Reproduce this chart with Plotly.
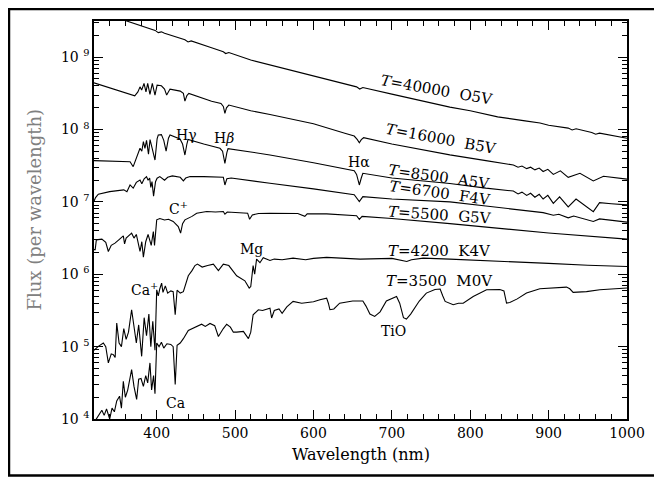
import numpy as np
import plotly.graph_objects as go

# wavelength (nm) and log10 flux (per wavelength)
o5v_lam = [320, 340, 364, 380, 398, 402, 406, 410, 425, 436, 440, 444, 470, 485, 488, 492,
           520, 545, 600, 640, 655, 659, 663, 700, 740, 774, 800, 828, 835, 870, 889, 900,
           925, 930, 935, 955, 960, 965, 1000]
o5v_logf = [9.65, 9.58, 9.497, 9.44, 9.37, 9.34, 9.35, 9.33, 9.28, 9.24, 9.21, 9.225, 9.13, 9.075, 9.05, 9.065,
            8.96, 8.89, 8.74, 8.63, 8.59, 8.56, 8.58, 8.49, 8.39, 8.31, 8.26, 8.20, 8.175, 8.12, 8.09, 8.06,
            8.02, 7.995, 8.01, 7.96, 7.935, 7.95, 7.88]

b5v_lam = [320, 345, 372, 376, 378.7, 380.8, 383.8, 386.3, 388.5, 391.4, 394.4, 397.8, 400.5, 406, 410,
           412.7, 417, 430, 434, 436, 438.5, 441, 470, 482, 485, 487, 489, 492, 520, 544.5, 600, 640,
           652, 656, 658.5, 661, 664, 700, 740, 774, 820, 855, 861, 866, 872, 877, 882.5, 888, 893,
           899, 906, 915, 925, 940, 957, 970, 1000]
b5v_logf = [8.646, 8.56, 8.467, 8.52, 8.59, 8.545, 8.637, 8.52, 8.637, 8.485, 8.637, 8.476, 8.614, 8.605, 8.56,
            8.476, 8.559, 8.531, 8.50, 8.393, 8.47, 8.50, 8.39, 8.361, 8.32, 8.223, 8.30, 8.338, 8.26, 8.209, 8.08, 7.95,
            7.91, 7.86, 7.818, 7.86, 7.887, 7.80, 7.72, 7.65, 7.57, 7.51, 7.48, 7.495, 7.46, 7.48, 7.443, 7.468, 7.42,
            7.45, 7.38, 7.43, 7.34, 7.395, 7.29, 7.355, 7.315]

a5v_lam = [320, 345, 366, 370, 374, 378.7, 381, 383, 385, 387, 389.5, 391.5, 394, 397.8, 400.5, 402, 406,
           409, 412, 415, 417, 429.7, 433, 436, 438.5, 440, 460, 480.7, 484, 487, 489.5, 491, 520, 544.5,
           600, 640, 652, 655, 658.5, 661, 663, 700, 774, 820, 855, 861, 866, 872, 877, 882.5, 888, 893,
           899, 906, 914, 925, 935, 957, 965, 980, 1000]
a5v_logf = [7.570, 7.565, 7.556, 7.487, 7.60, 7.741, 7.70, 7.833, 7.74, 7.85, 7.66, 7.86, 7.75, 7.579, 7.87, 7.924, 7.93,
            7.85, 7.703, 7.88, 7.924, 7.869, 7.80, 7.648, 7.80, 7.864, 7.80, 7.741, 7.70, 7.533, 7.68, 7.736, 7.69, 7.648,
            7.54, 7.46, 7.43, 7.38, 7.234, 7.33, 7.396, 7.33, 7.255, 7.19, 7.15, 7.11, 7.135, 7.09, 7.12, 7.065, 7.105, 7.04,
            7.09, 6.98, 7.07, 6.93, 7.04, 6.866, 6.99, 6.975, 6.959]

f4v_lam = [320, 322, 325.5, 340, 358, 362, 366, 370, 374, 378.7, 381, 384, 387, 389, 391, 392.5, 394, 396,
           398.5, 400.5, 404, 410, 414, 420, 430, 434, 437, 442.5, 460, 485, 487, 489.5, 495, 520, 544.5,
           600, 640, 652, 658.5, 663, 700, 774, 820, 855, 893, 906, 913, 925, 932, 957, 965, 1000]
f4v_logf = [7.01, 7.06, 7.106, 7.142, 7.166, 7.14, 7.234, 7.19, 7.27, 7.303, 7.25, 7.32, 7.349, 7.30, 7.33, 7.20, 7.28, 7.08,
            7.28, 7.327, 7.35, 7.30, 7.34, 7.36, 7.34, 7.29, 7.33, 7.35, 7.35, 7.34, 7.234, 7.32, 7.33, 7.29, 7.257,
            7.18, 7.12, 7.10, 7.004, 7.073, 7.04, 7.00, 6.943, 6.90, 6.852, 6.815, 6.83, 6.78, 6.805, 6.73, 6.765, 6.72]

g5v_lam = [320, 321.5, 323, 330, 335, 338.3, 342, 346.8, 352, 357.4, 359, 361, 368, 371, 374, 378.7, 381,
           383, 386, 389, 393, 395.7, 397.2, 400, 404, 410, 415, 421, 427.5, 430.5, 433, 436, 445, 451,
           463.8, 475, 485, 487, 490, 505, 516, 518.5, 522, 530, 544.5, 580, 589, 592, 616.8, 655, 658.5,
           662, 700, 774, 850, 900, 1000]
g5v_logf = [6.34, 6.34, 6.476, 6.485, 6.44, 6.315, 6.40, 6.43, 6.48, 6.531, 6.42, 6.50, 6.568, 6.50, 6.55, 6.315, 6.45,
            6.237, 6.45, 6.55, 6.40, 6.591, 6.40, 6.752, 6.77, 6.75, 6.76, 6.73, 6.66, 6.57, 6.70, 6.752, 6.80, 6.844,
            6.867, 6.86, 6.867, 6.83, 6.86, 6.85, 6.844, 6.76, 6.82, 6.84, 6.844, 6.84, 6.80, 6.835, 6.835, 6.81, 6.76,
            6.80, 6.77, 6.70, 6.62, 6.57, 6.486]

k4v_lam = [320, 325.5, 331.9, 335, 338.3, 342, 344.7, 347, 349, 352, 355, 358, 361, 364, 368, 371, 374, 377,
           380.8, 384, 387, 390, 392.5, 395, 397.8, 400, 402, 404, 406.3, 408, 411, 414, 418, 421, 423.6,
           426, 430, 434, 440.3, 445, 448.8, 452, 458, 465, 472.3, 478.7, 485, 492, 502, 512.5, 518, 520,
           523, 525, 527.4, 531.7, 535.9, 544.5, 550, 560, 574, 590, 600, 616.8, 659.5, 700, 714.8, 719,
           725, 740, 774, 850, 900, 950, 1000]
k4v_logf = [4.95, 5.004, 5.05, 5.00, 4.775, 4.90, 4.89, 4.85, 5.327, 5.05, 5.00, 5.25, 5.10, 5.20, 5.51, 5.25, 5.05, 5.30,
            4.866, 5.40, 5.15, 5.45, 5.00, 5.35, 4.95, 5.786, 5.70, 5.80, 5.878, 5.75, 5.84, 5.74, 5.77, 5.76, 5.441,
            5.78, 5.74, 5.76, 5.98, 6.05, 6.12, 6.14, 6.10, 6.12, 6.14, 6.05, 6.14, 6.12, 5.98, 5.91, 5.81, 5.83,
            6.12, 6.00, 6.21, 6.16, 6.23, 6.19, 6.21, 6.20, 6.223, 6.20, 6.22, 6.233, 6.21, 6.22, 6.19, 6.177,
            6.20, 6.223, 6.21, 6.18, 6.15, 6.125, 6.108]

m0v_lam = [320, 325.5, 330, 333, 336, 340, 343, 346, 349, 352.6, 355, 357.4, 360, 363, 368, 371, 374.4, 377,
           380, 383, 386, 388.5, 391.4, 393.5, 396, 397.8, 400, 403, 406, 409, 413, 418, 421, 423.6, 426,
           430, 434, 440.3, 448.8, 457.3, 462, 468, 474, 478.7, 485, 489.3, 494, 497.8, 502, 510.6, 517,
           520, 523, 529.7, 535, 544.5, 546.6, 550, 556, 560, 566, 574, 585, 600, 608.3, 616.8, 619, 621,
           626, 633.4, 650, 663, 667, 672, 678.1, 685, 693, 700, 706, 710, 714.8, 718.6, 724, 735, 744,
           755, 761.6, 765, 768, 778.3, 785, 791, 803.8, 820.8, 837.8, 843, 846.3, 850.5, 860, 871.8,
           888.8, 922.8, 927, 931.3, 948.3, 965.3, 1000]
m0v_logf = [3.95, 4.04, 4.12, 4.05, 4.14, 4.00, 4.15, 4.10, 4.25, 4.315, 4.15, 4.52, 4.30, 4.40, 4.683, 4.45, 4.27, 4.55,
            4.56, 4.45, 4.60, 4.50, 4.775, 4.40, 4.60, 4.35, 5.051, 5.00, 5.06, 4.98, 5.04, 5.03, 5.00, 4.476, 5.02,
            5.05, 5.11, 5.224, 5.27, 5.31, 5.28, 5.32, 5.29, 5.14, 5.25, 5.31, 5.27, 5.20, 5.20, 5.21, 5.11,
            5.20, 5.44, 5.51, 5.50, 5.53, 5.396, 5.50, 5.52, 5.46, 5.55, 5.625, 5.60, 5.62, 5.647, 5.67, 5.60, 5.51,
            5.52, 5.60, 5.63, 5.63, 5.56, 5.45, 5.418, 5.48, 5.63, 5.67, 5.694, 5.60, 5.40, 5.382, 5.45, 5.63, 5.74,
            5.79, 5.796, 5.70, 5.625, 5.58, 5.60, 5.60, 5.694, 5.786, 5.79, 5.77, 5.602, 5.61, 5.66, 5.74,
            5.80, 5.823, 5.80, 5.75, 5.76, 5.786, 5.81]

series = [
    (o5v_lam, o5v_logf), (b5v_lam, b5v_logf), (a5v_lam, a5v_logf), (f4v_lam, f4v_logf),
    (g5v_lam, g5v_logf), (k4v_lam, k4v_logf), (m0v_lam, m0v_logf),
]

# star labels: text, wavelength, log flux, angle
star_labels = ["<i>T</i>=40000  O5V", "<i>T</i>=16000  B5V", "<i>T</i>=8500  A5V", "<i>T</i>=6700  F4V",
               "<i>T</i>=5500  G5V", "<i>T</i>=4200  K4V", "<i>T</i>=3500  M0V"]
label_lam = [757, 763, 761, 761, 761, 761, 761]
label_logf = [8.545, 7.865, 7.35, 7.12, 6.82, 6.315, 5.91]
label_angle = [10, 10.5, 8, 8, 4, 0, 0]

# line identifications
line_names = ["H\u03b3", "H<i>\u03b2</i>", "H\u03b1", "C<sup>+</sup>", "Mg", "Ca<sup>+</sup>", "TiO", "Ca"]
line_lam = [438, 486, 658, 427.6, 521, 385, 701.8, 424.6]
line_logf = [7.924, 7.878, 7.556, 6.913, 6.348, 5.796, 5.22, 4.223]

SERIF = "DejaVu Serif"

fig = go.Figure()
for lam, logf in series:
    fig.add_trace(go.Scatter(
        x=lam, y=10 ** np.array(logf), mode='lines',
        line=dict(color='black', width=1.1), showlegend=False, hoverinfo='skip'
    ))

annotations = []
for txt, lx, ly, ang in zip(star_labels, label_lam, label_logf, label_angle):
    annotations.append(dict(x=lx, y=ly, text=txt, showarrow=False, textangle=ang,
                            xanchor='center', yanchor='middle',
                            font=dict(family=SERIF, size=15, color='black')))
for txt, lx, ly in zip(line_names, line_lam, line_logf):
    annotations.append(dict(x=lx, y=ly, text=txt, showarrow=False,
                            xanchor='center', yanchor='middle',
                            font=dict(family=SERIF, size=14, color='black')))

# axis titles
annotations.append(dict(xref='paper', yref='paper', x=0.5, y=-0.089, text='Wavelength (nm)',
                        showarrow=False, xanchor='center', yanchor='middle',
                        font=dict(family=SERIF, size=16, color='black')))
annotations.append(dict(xref='paper', yref='paper', x=-0.111, y=0.526, text='Flux (per wavelength)',
                        showarrow=False, textangle=-90, xanchor='center', yanchor='middle',
                        font=dict(family=SERIF, size=18, color='#808080')))

decades = [4, 5, 6, 7, 8, 9]
ytick_vals = [10 ** d for d in decades]
ytick_text = ["10 <sup>%d</sup>" % d for d in decades]
yminor_vals = [k * 10 ** d for d in decades for k in range(2, 10)]

# page has an 8px body margin, so the figure is 8px smaller than the window
fig.update_layout(
    width=654, height=476,
    margin=dict(l=86, r=35, t=13, b=65),
    paper_bgcolor='white', plot_bgcolor='white',
    annotations=annotations,
    shapes=[dict(type='rect', xref='paper', yref='paper',
                 x0=-0.1595, x1=1.0544, y0=-0.1418, y1=1.030,
                 line=dict(color='black', width=2.5))],
    xaxis=dict(
        range=[320, 1000], showgrid=False, zeroline=False,
        showline=True, linecolor='black', linewidth=1.5, mirror='ticks',
        ticks='inside', ticklen=9, tickwidth=1, tickcolor='black',
        tickvals=[400, 500, 600, 700, 800, 900, 1000],
        tickfont=dict(family=SERIF, size=14, color='black'),
        minor=dict(ticks='inside', ticklen=5, tickwidth=1, tickcolor='black', dtick=20, showgrid=False),
    ),
    yaxis=dict(
        type='log', range=[4, 9.5], showgrid=False, zeroline=False,
        showline=True, linecolor='black', linewidth=1.5, mirror='ticks',
        ticks='inside', ticklen=9, tickwidth=1, tickcolor='black',
        tickvals=ytick_vals, ticktext=ytick_text,
        tickfont=dict(family=SERIF, size=14, color='black'),
        minor=dict(ticks='inside', ticklen=5, tickwidth=1, tickcolor='black',
                   tickmode='array', tickvals=yminor_vals, showgrid=False),
    ),
)

fig.write_html("out.html")
